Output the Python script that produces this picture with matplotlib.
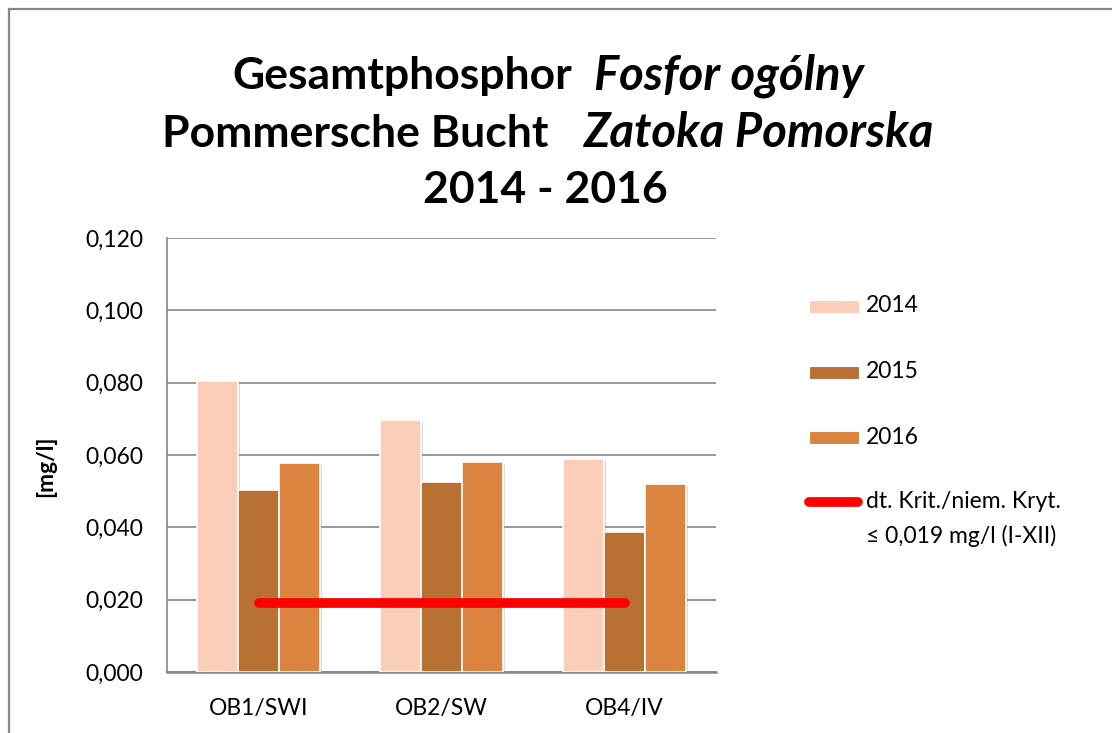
import matplotlib
matplotlib.use("Agg")
import matplotlib.pyplot as plt
import numpy as np
from matplotlib.patches import Rectangle
from matplotlib.lines import Line2D
from matplotlib import patheffects as pe

# Daten
stationen = ["OB1/SWI", "OB2/SW", "OB4/IV"]
jahre = ["2014", "2015", "2016"]
werte_2014 = [0.0804, 0.0696, 0.0589]
werte_2015 = [0.0503, 0.0525, 0.0386]
werte_2016 = [0.0578, 0.0581, 0.0521]
kriterium = 0.019
kriterium_label = "dt. Krit./niem. Kryt.\n\u2264 0,019 mg/l (I-XII)"
y_ticks = [0.0, 0.02, 0.04, 0.06, 0.08, 0.10, 0.12]

farben = ["#FACEB9", "#B97033", "#DB843F"]
FONT = ["Lato", "DejaVu Sans"]
plt.rcParams["font.family"] = FONT

W, H = 1112, 733
fig = plt.figure(figsize=(W / 100, H / 100), dpi=100)
fig.patch.set_facecolor("white")

# Plotbereich in Pixeln aus der Vorlage
ax = fig.add_axes([167 / W, 1 - 672 / H, (716 - 167) / W, (672 - 238) / H])

x = np.arange(len(stationen))
bw = 0.225
schatten = [pe.SimplePatchShadow(offset=(1.5, -1.5), shadow_rgbFace="#999999", alpha=0.35), pe.Normal()]
for i, werte in enumerate([werte_2014, werte_2015, werte_2016]):
    bars = ax.bar(x + (i - 1) * bw, werte, width=bw, color=farben[i],
                  edgecolor="white", linewidth=1.2, zorder=3)
    for b in bars:
        b.set_path_effects(schatten)

ax.plot(x, [kriterium] * len(x), color="#FF0000", linewidth=7,
        solid_capstyle="round", zorder=4)

ax.set_xlim(-0.5, len(stationen) - 0.5)
ax.set_ylim(0, 0.12)
ax.set_yticks(y_ticks)
ax.set_yticklabels([f"{v:.3f}".replace(".", ",") for v in y_ticks], fontsize=16.5)
ax.set_xticks(x)
ax.set_xticklabels(stationen, fontsize=16.5)
ax.tick_params(axis="y", length=0, pad=17)
ax.tick_params(axis="x", length=0, pad=19)
ax.yaxis.grid(True, color="#868686", linewidth=1.2, zorder=0)
ax.set_axisbelow(True)
for s in ["top", "right"]:
    ax.spines[s].set_visible(False)
ax.spines["left"].set_color("#868686")
ax.spines["left"].set_linewidth(1.2)
ax.spines["bottom"].set_color("#868686")
ax.spines["bottom"].set_linewidth(1.8)

fig.text(46 / W, 1 - 466 / H, "[mg/l]", rotation=90, fontsize=16.5,
         fontweight="bold", ha="center", va="center")

# Titel (fett, teilweise kursiv)
def zeile(y_px, teile):
    for x_px, txt, stil, ha in teile:
        groesse = 34 if stil == "italic" else 32
        fig.text(x_px / W, 1 - y_px / H, txt, fontsize=groesse, fontweight="bold",
                 style=stil, ha=ha, va="baseline")

zeile(89, [(572, "Gesamtphosphor", "normal", "right"), (594, "Fosfor ogólny", "italic", "left")])
zeile(147, [(548, "Pommersche Bucht", "normal", "right"), (584, "Zatoka Pomorska", "italic", "left")])
zeile(203, [(545, "2014 - 2016", "normal", "center")])

# Legende
leg_y = [306, 372, 437]
for farbe, jahr, y_px in zip(farben, jahre, leg_y):
    fig.add_artist(Rectangle((809 / W, 1 - (y_px + 6.5) / H), 50 / W, 13 / H,
                             facecolor=farbe, edgecolor="white", linewidth=0.8,
                             transform=fig.transFigure))
    fig.text(866 / W, 1 - y_px / H, jahr, fontsize=16.5, va="center", ha="left")
fig.add_artist(Line2D([809 / W, 858 / W], [1 - 502 / H, 1 - 502 / H], color="#FF0000",
                      linewidth=7, solid_capstyle="round", transform=fig.transFigure))
fig.text(866 / W, 1 - 502 / H, kriterium_label.split("\n")[0], fontsize=16.5, va="center", ha="left")
fig.text(866 / W, 1 - 536 / H, kriterium_label.split("\n")[1], fontsize=16.5, va="center", ha="left")

# Rahmen
fig.add_artist(Line2D([8.5 / W, 8.5 / W], [0, 1 - 8.5 / H], color="#888888", linewidth=1.6,
                      transform=fig.transFigure))
fig.add_artist(Line2D([8.5 / W, 1], [1 - 8.5 / H, 1 - 8.5 / H], color="#888888", linewidth=1.6,
                      transform=fig.transFigure))

fig.savefig("out.png", dpi=100)
